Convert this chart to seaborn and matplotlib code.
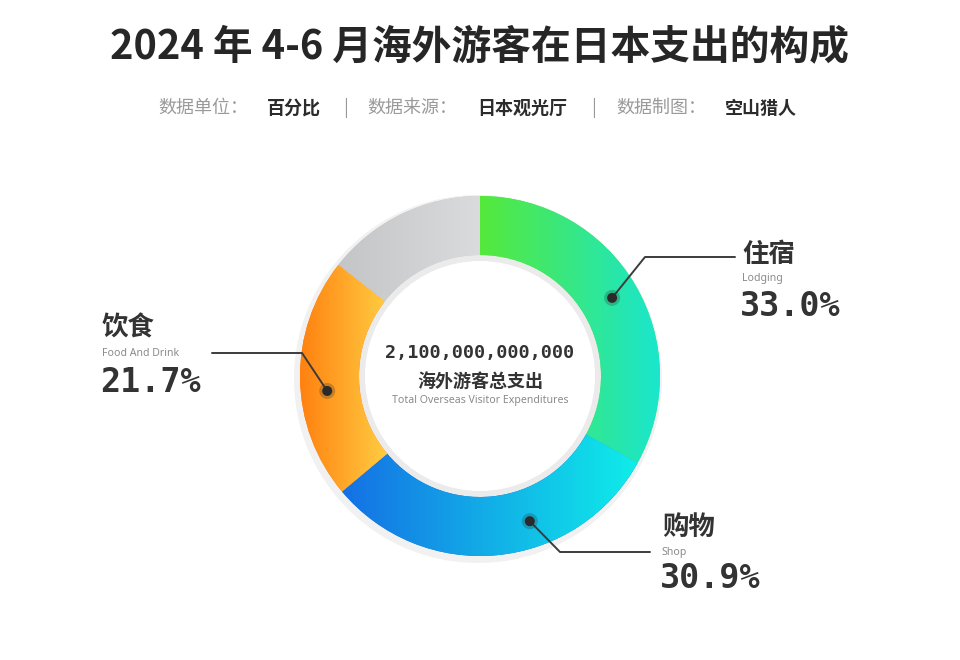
import numpy as np
import matplotlib
matplotlib.use('Agg')
import matplotlib.pyplot as plt
import seaborn as sns
from matplotlib.colors import LinearSegmentedColormap
from matplotlib.patches import Circle, Wedge

# ---------------- data ----------------
title = '2024 年 4-6 月海外游客在日本支出的构成'
categories_cn = ['住宿', '购物', '饮食', '其他']
categories_en = ['Lodging', 'Shop', 'Food And Drink', '']
shares = [33.0, 30.9, 21.7, 14.4]
total_value = '2,100,000,000,000'
total_cn = '海外游客总支出'
total_en = 'Total Overseas Visitor Expenditures'
meta_keys = ['数据单位：', '数据来源：', '数据制图：']
meta_vals = ['百分比', '日本观光厅', '空山猎人']

# ---------------- style ----------------
grad_colors = [('#55E93A', '#19E6CF'),   # lodging
               ('#1570E4', '#0FEDEA'),   # shop
               ('#FF8110', '#FFCD42'),   # food
               ('#C4C5C7', '#DADBDD')]   # other

sns.set_theme(style='white')
plt.rcParams['font.family'] = ['Noto Sans CJK SC', 'DejaVu Sans']

W, H = 960, 660
fig = plt.figure(figsize=(9.6, 6.6), dpi=100)
fig.patch.set_facecolor('white')
ax = fig.add_axes([0, 0, 1, 1])
ax.set_facecolor('white')

CX, CY = 480, H - 376
R, RW = 180, 59
RIN = R - RW

def Y(ypx):
    return H - ypx

# soft shadows
ax.add_patch(Wedge((CX - 2, CY - 3), R + 4, 0, 360, width=12,
                   facecolor='#f1f1f1', edgecolor='none', zorder=0))
ax.add_patch(Wedge((CX, CY), RIN + 1, 0, 360, width=7,
                   facecolor='#ebebeb', edgecolor='none', zorder=1))

wedges, _ = ax.pie(shares, radius=R, center=(CX, CY), startangle=90,
                   counterclock=False, frame=True,
                   wedgeprops=dict(width=RW, linewidth=0, edgecolor='none'),
                   colors=[c[0] for c in grad_colors])

grad = np.linspace(0, 1, 256).reshape(1, -1)
for w, (c0, c1) in zip(wedges, grad_colors):
    w.set_zorder(2)
    bb = w.get_path().get_extents()
    cmap = LinearSegmentedColormap.from_list('g', [c0, c1])
    im = ax.imshow(grad, extent=[bb.x0, bb.x1, bb.y0, bb.y1], cmap=cmap,
                   aspect='auto', interpolation='bilinear', zorder=3,
                   origin='lower')
    im.set_clip_path(w)

# ---------------- title & meta ----------------
ax.text(480, Y(47), title, ha='center', va='center', fontsize=28.6,
        fontweight='bold', color='#262626')

meta_key_x = [158, 367, 616]
meta_val_x = [267, 477, 725]
sep_x = [346, 594]
for k, v, kx, vx in zip(meta_keys, meta_vals, meta_key_x, meta_val_x):
    ax.text(kx, Y(108), k, ha='left', va='center', fontsize=13, color='#9a9a9a')
    ax.text(vx, Y(108), v, ha='left', va='center', fontsize=13,
            fontweight='bold', color='#2b2b2b')
for sx in sep_x:
    ax.text(sx, Y(108), '|', ha='center', va='center', fontsize=13, color='#9a9a9a')

# ---------------- center text ----------------
ax.text(CX, Y(353), total_value, ha='center', va='center', fontsize=13.3,
        family='DejaVu Sans Mono', fontweight='bold', color='#333333', zorder=5)
ax.text(CX, Y(381), total_cn, ha='center', va='center', fontsize=13,
        fontweight='bold', color='#333333', zorder=5)
ax.text(CX, Y(400), total_en, ha='center', va='center', fontsize=7.6,
        family='Noto Sans', color='#8a8a8a', zorder=5)

# ---------------- callouts ----------------
anchor_frac = [0.5, 0.38, 0.44]
anchor_r = R - RW / 2 + 3
elbows = [(645, 257), (560, 552), (302, 353)]
ends = [(735, 257), (650, 552), (212, 353)]
text_x = [742, 662, 102]
text_y = [(255, 279, 307), (527, 552, 579), (328, 353, 382)]

cum = np.concatenate([[0], np.cumsum(shares)])
total_share = cum[-1]
for i in range(3):
    a = np.deg2rad((cum[i] + anchor_frac[i] * shares[i]) / total_share * 360)
    dx, dy = CX + anchor_r * np.sin(a), CY + anchor_r * np.cos(a)
    ex, ey = elbows[i][0], Y(elbows[i][1])
    fx, fy = ends[i][0], Y(ends[i][1])
    ax.plot([dx, ex, fx], [dy, ey, fy], color='#3c3c3c', lw=1.4, zorder=6,
            solid_capstyle='round')
    ax.add_patch(Circle((dx, dy), 8, facecolor='#2a2a2a', alpha=0.25,
                        edgecolor='none', zorder=7))
    ax.add_patch(Circle((dx, dy), 5, facecolor='#2a2a2a', edgecolor='none',
                        zorder=8))
    tx = text_x[i]
    y1, y2, y3 = text_y[i]
    ax.text(tx, Y(y1), categories_cn[i], ha='left', va='center', fontsize=19,
            fontweight='bold', color='#333333')
    ax.text(tx, Y(y2), categories_en[i], ha='left', va='center', fontsize=7.6,
            family='Noto Sans', color='#8a8a8a')
    ax.text(tx - 2, Y(y3), f'{shares[i]:.1f}%', ha='left', va='center',
            fontsize=24, family='DejaVu Sans Mono', fontweight='bold',
            color='#333333')

ax.set_xlim(0, W)
ax.set_ylim(0, H)
ax.set_aspect('equal')
ax.axis('off')

fig.savefig('out.png', dpi=100, facecolor='white')
